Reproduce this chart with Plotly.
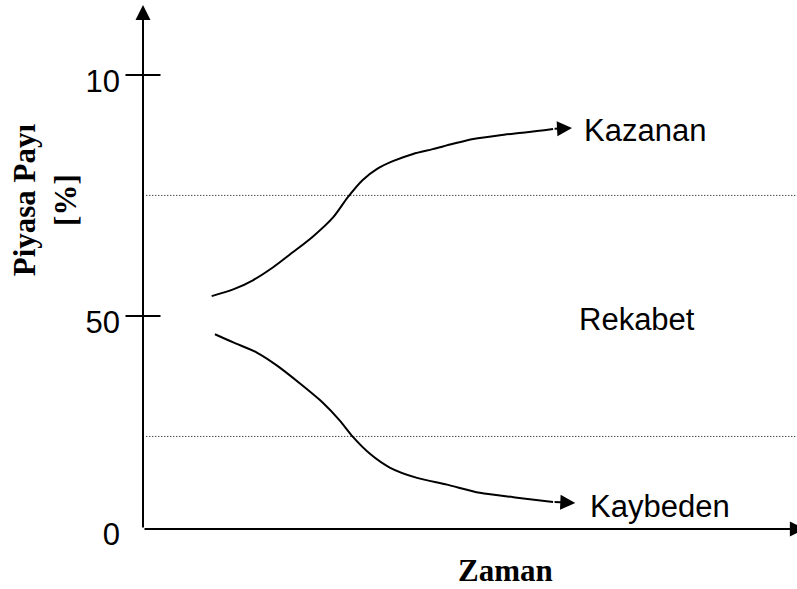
import plotly.graph_objects as go

# ---- data ----
time_win = [1.05, 1.38, 1.68, 1.99, 2.29, 2.60, 2.91, 3.13, 3.36, 3.58, 3.82, 4.13,
            4.43, 4.74, 5.05, 5.46, 5.87, 6.27]
share_win = [54.1, 55.5, 57.4, 60.1, 63.2, 66.5, 70.5, 74.6, 78.2, 80.5, 82.1, 83.6,
             84.6, 85.7, 86.7, 87.5, 88.1, 88.8]
win_tip = (6.56, 89.0)

time_lose = [1.10, 1.38, 1.74, 2.05, 2.40, 2.75, 3.01, 3.21, 3.47, 3.78, 4.19, 4.65,
             5.15, 5.72, 6.27]
share_lose = [46.2, 44.5, 42.4, 39.7, 36.0, 32.0, 28.3, 24.9, 21.4, 18.5, 16.4, 15.0,
              13.3, 12.3, 11.4]
lose_tip = (6.61, 11.2)

band_levels = [25, 75]
band_x = [0.05, 10.0]

tick_marks = [50, 100]
tick_vals = [6, 50, 100]
tick_text = ["0", "50", "10"]

labels = ["Kazanan", "Rekabet", "Kaybeden"]
label_x = [6.71, 6.64, 6.80]
label_y = [88.4, 49.2, 10.4]

x_origin, x_end = 0.0, 10.0
y_origin, y_top = 5.8, 114.5

SANS = "Liberation Sans, Arial, sans-serif"
SERIF = "Liberation Serif, Times New Roman, serif"

fig = go.Figure()

for lv in band_levels:
    fig.add_trace(go.Scatter(x=band_x, y=[lv, lv], mode="lines",
                             line=dict(color="#000000", width=1, dash="1px,2px"),
                             hoverinfo="skip", showlegend=False))

fig.add_trace(go.Scatter(x=time_win, y=share_win, mode="lines",
                         line=dict(color="black", width=2, shape="spline", smoothing=0.8),
                         showlegend=False))
fig.add_trace(go.Scatter(x=time_lose, y=share_lose, mode="lines",
                         line=dict(color="black", width=2, shape="spline", smoothing=0.8),
                         showlegend=False))

# crossing tick marks on the y axis
fig.add_trace(go.Scatter(x=[x_origin] * len(tick_marks), y=tick_marks, mode="markers",
                         marker=dict(symbol="line-ew", size=25,
                                     line=dict(color="black", width=2)),
                         cliponaxis=False, hoverinfo="skip", showlegend=False))

arrow_common = dict(xref="x", yref="y", axref="x", ayref="y", text="",
                    showarrow=True, arrowhead=2, arrowsize=1.5, arrowwidth=2,
                    arrowcolor="black", standoff=0, startstandoff=0)

# axes with arrows
fig.add_annotation(x=x_origin, y=y_top, ax=x_origin, ay=y_origin, **arrow_common)
fig.add_annotation(x=10.12, y=y_origin, ax=x_origin, ay=y_origin, **arrow_common)
# curve arrows
fig.add_annotation(x=win_tip[0], y=win_tip[1], ax=time_win[-1], ay=share_win[-1],
                   **arrow_common)
fig.add_annotation(x=lose_tip[0], y=lose_tip[1], ax=time_lose[-1], ay=share_lose[-1],
                   **arrow_common)

for t, lx, ly in zip(labels, label_x, label_y):
    fig.add_annotation(x=lx, y=ly, xref="x", yref="y", text=t, showarrow=False,
                       xanchor="left", yanchor="middle",
                       font=dict(family=SANS, size=31, color="black"))

fig.add_annotation(x=0.554, y=-0.080, xref="paper", yref="paper", text="<b>Zaman</b>",
                   showarrow=False, xanchor="center", yanchor="middle",
                   font=dict(family=SERIF, size=31, color="black"))
fig.add_annotation(x=-0.150, y=0.629, xref="paper", yref="paper",
                   text="<b>Piyasa Payı</b><br><b>[%]</b>", textangle=-90,
                   showarrow=False, xanchor="center", yanchor="middle",
                   font=dict(family=SERIF, size=31, color="black"))

fig.update_layout(
    width=797, height=589,
    margin=dict(l=143, r=0, t=5, b=60),
    paper_bgcolor="white", plot_bgcolor="white",
    showlegend=False,
    xaxis=dict(range=[x_origin, x_end], showgrid=False, zeroline=False,
               showline=False, showticklabels=False, ticks=""),
    yaxis=dict(range=[y_origin, y_top], showgrid=False, zeroline=False,
               showline=False, tickmode="array", tickvals=tick_vals,
               ticktext=tick_text, ticks="", ticklabelstandoff=22,
               ticklabelshift=6,
               tickfont=dict(family=SANS, size=31, color="black")),
)

fig.write_html(
    "out.html",
    config={"displayModeBar": False},
    post_script="document.body.style.margin='0';document.body.style.overflow='hidden';",
)
